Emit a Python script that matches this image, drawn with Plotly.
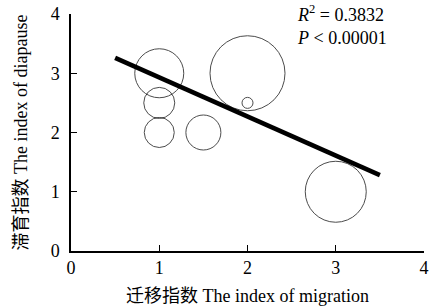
import plotly.graph_objects as go

migration = [1.0, 1.0, 1.0, 1.5, 2.0, 2.0, 3.0]
diapause = [3.0, 2.5, 2.0, 2.0, 3.0, 2.5, 1.0]
weight = [49, 31, 30, 35, 75, 11, 61]

fit_x = [0.5, 3.5]
fit_intercept = 3.59
fit_slope = -0.66
fit_y = [fit_intercept + fit_slope * v for v in fit_x]

xticks = [0, 1, 2, 3, 4]
yticks = [0, 1, 2, 3, 4]

serif = "Liberation Serif, Times New Roman, serif"
title_font = "Liberation Serif, Noto Sans CJK SC, serif"

fig = go.Figure()
fig.add_trace(go.Scatter(
    x=migration, y=diapause, mode="markers",
    marker=dict(size=weight, sizemode="diameter", sizeref=1,
                color="rgba(0,0,0,0)", line=dict(color="black", width=1)),
    showlegend=False, cliponaxis=False))
fig.add_trace(go.Scatter(
    x=fit_x, y=fit_y, mode="lines",
    line=dict(color="black", width=4.5), showlegend=False))

fig.add_annotation(x=0.9, y=1.06, xref="paper", yref="paper",
                   xanchor="right", yanchor="top", align="left", showarrow=False,
                   text="<i>R</i><sup>2</sup> = 0.3832<br><i>P</i> &lt; 0.00001",
                   font=dict(family=serif, size=18, color="black"))

axis_common = dict(range=[0, 4], showgrid=False, zeroline=False, showline=True,
                   linecolor="black", linewidth=1.5, ticks="inside", ticklen=6,
                   tickwidth=1, tickcolor="black", automargin=False,
                   ticklabeloverflow="allow",
                   tickfont=dict(family=serif, size=18, color="black"))

fig.update_xaxes(**axis_common, tickvals=xticks, ticktext=[str(t) for t in xticks],
                 title=dict(text="迁移指数 The index of migration", standoff=12,
                            font=dict(family=title_font, size=18, color="black")))
fig.update_yaxes(**axis_common, tickvals=yticks, ticktext=[str(t) for t in yticks],
                 ticklabelstandoff=6,
                 title=dict(text="滞育指数 The index of diapause", standoff=18,
                            font=dict(family=title_font, size=18, color="black")))

fig.update_layout(width=433, height=307, margin=dict(l=71, r=9, t=14, b=56),
                  plot_bgcolor="white", paper_bgcolor="white",
                  font=dict(family=serif, color="black"))

fig.write_html("out.html", config={"displayModeBar": False},
               post_script="document.body.style.margin='0';document.body.style.overflow='hidden';")
